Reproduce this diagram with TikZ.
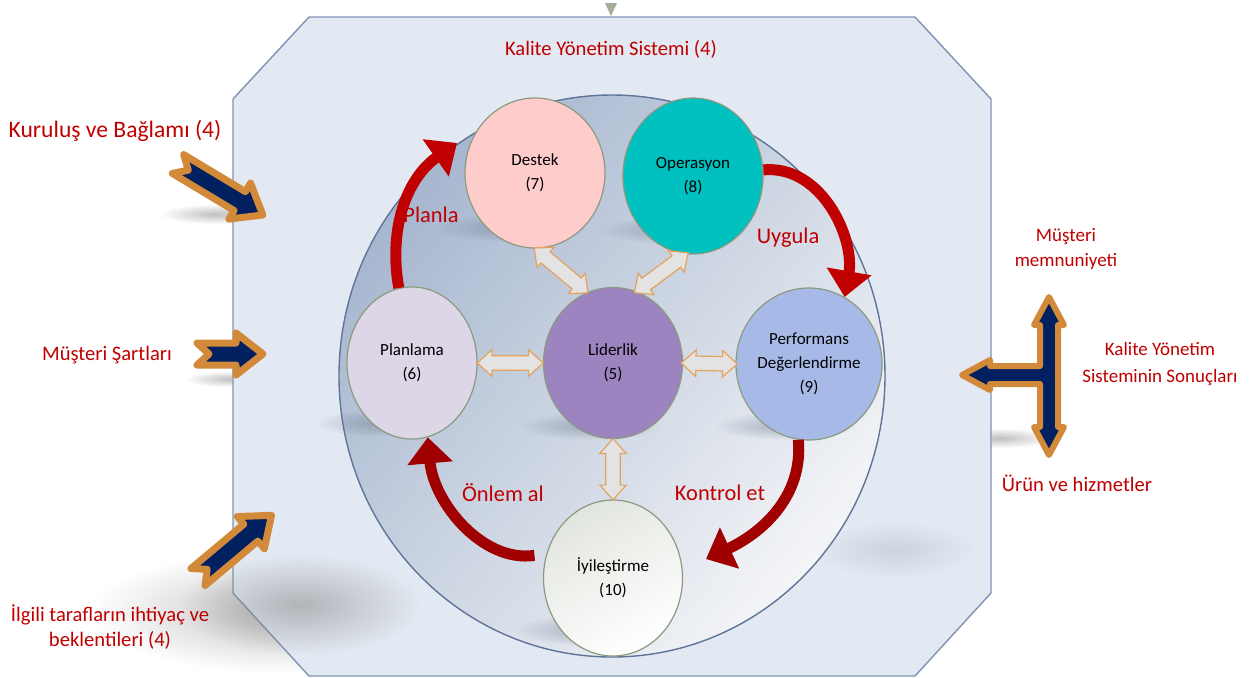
\documentclass[tikz,border=0pt]{standalone}
\usepackage{fontspec}
\setmainfont{Carlito}
\usetikzlibrary{positioning,shapes,arrows.meta,calc,fadings}

\definecolor{kysred}{HTML}{C00000}
\definecolor{darkred}{HTML}{A00000}
\definecolor{navyblue}{HTML}{002060}
\definecolor{ochre}{HTML}{D28A3A}
\definecolor{lightochre}{HTML}{E4A35C}
\definecolor{boxfill}{HTML}{E3E9F2}
\definecolor{boxline}{HTML}{7F93B3}
\definecolor{bigline}{HTML}{5E7499}
\definecolor{bigtop}{HTML}{A6B6CF}
\definecolor{bigmid}{HTML}{C4CEDD}
\definecolor{bigbot}{HTML}{F4F5F7}
\definecolor{circline}{HTML}{8C9A80}
\definecolor{destekfill}{HTML}{FFCCCC}
\definecolor{operfill}{HTML}{00C0C0}
\definecolor{planfill}{HTML}{DDD6E6}
\definecolor{lidfill}{HTML}{9C84C0}
\definecolor{perffill}{HTML}{A7BAE7}
\definecolor{shadowc}{HTML}{6E7C90}

\tikzfading[name=shfade, inner color=transparent!0, outer color=transparent!100]

\tikzset{
  circ/.style={ellipse, draw=circline, line width=0.6pt, align=center,
    inner sep=0pt, font=\fontsize{8.5}{12}\selectfont},
  redlbl/.style={text=kysred, align=center, font=\fontsize{10.3}{12.5}\selectfont},
  cyclbl/.style={text=kysred, font=\fontsize{11.2}{13}\selectfont},
  navyarr/.style={draw=ochre, fill=navyblue, line width=3.5pt, line join=round},
  dblarr/.style={double arrow, draw=lightochre, fill=gray!22, line width=0.6pt,
    inner xsep=0pt, inner ysep=3.3pt, double arrow head extend=3pt,
    double arrow tip angle=84},
  redarr/.style={draw=kysred, line width=5.5pt,
    -{Triangle[width=22pt,length=13pt]}},
  soft/.style={fill=shadowc, path fading=shfade, opacity=0.5},
  pics/inarrow/.style={code={
    \draw[navyarr] (0,11) -- (#1-27,11) -- (#1-27,21) -- (#1,0) -- (#1-27,-21)
      -- (#1-27,-11) -- (0,-11) -- (12,0) -- cycle;
  }}
}

\begin{document}
\begin{tikzpicture}[x=0.5pt,y=-0.5pt]
\useasboundingbox (0,0) rectangle (1249,677);

% outer shadows
\fill[soft, fill=gray] (290,612) ellipse [x radius=200, y radius=62];
\fill[soft, fill=gray] (215,214) ellipse [x radius=55, y radius=10];
\fill[soft, fill=gray] (230,379) ellipse [x radius=45, y radius=8];
\fill[soft, fill=gray] (1000,438) ellipse [x radius=55, y radius=10];

% system box
\draw[fill=boxfill, draw=boxline, line width=0.7pt] (309,17) -- (915,17) -- (991,99)
  -- (991,593) -- (915,676) -- (309,676) -- (233,593) -- (233,99) -- cycle;
\fill[soft, fill=gray] (300,605) ellipse [x radius=120, y radius=50];
\fill[fill=circline!80] (605,3) -- (617,3) -- (611,16) -- cycle;

\node[redlbl] (kys) at (611,49) {Kalite Yönetim Sistemi (4)};

% big circle
\path[draw=bigline, line width=0.7pt, top color=bigtop, middle color=bigmid,
  bottom color=bigbot, shading angle=50]
  (612,376) ellipse [x radius=273, y radius=281];

% shadows inside
\fill[soft] (510,228) ellipse [x radius=75, y radius=14];
\fill[soft] (675,230) ellipse [x radius=75, y radius=14];
\fill[soft] (385,423) ellipse [x radius=70, y radius=14];
\fill[soft] (590,426) ellipse [x radius=70, y radius=14];
\fill[soft] (785,426) ellipse [x radius=70, y radius=14];
\fill[soft] (590,630) ellipse [x radius=75, y radius=16];
\fill[soft, opacity=0.2] (895,550) ellipse [x radius=80, y radius=28];

% process circles
\node[circ, fill=destekfill, minimum width=70pt, minimum height=75pt] (destek) at (535,173) {Destek\\(7)};
\node[circ, fill=operfill, minimum width=70pt, minimum height=78pt] (oper) at (693,176) {Operasyon\\(8)};
\node[circ, fill=planfill, minimum width=65pt, minimum height=76pt] (plan) at (412,363) {Planlama\\(6)};
\node[circ, fill=lidfill, minimum width=69.5pt, minimum height=75.5pt] (lid) at (613,363) {Liderlik\\(5)};
\node[circ, fill=perffill, minimum width=70pt, minimum height=76pt] (perf) at (809,364) {Performans\\Değerlendirme\\(9)};
\node[circ, top color=circline!25!white, bottom color=white, shading angle=30,
  minimum width=69.5pt, minimum height=78pt] (iyi) at (613,578) {İyileştirme\\(10)};

% links to leadership
\path (plan.east) -- (lid.west) node[dblarr, midway, sloped, minimum height=33pt] {};
\path (lid.east) -- (perf.west) node[dblarr, midway, sloped, minimum height=28pt] {};
\path (lid.south) -- (iyi.north) node[dblarr, midway, sloped, minimum height=30.5pt] {};
\path (destek.south) -- (lid.110) node[dblarr, midway, sloped, minimum height=35pt] {};
\path (oper.-95) -- (lid.72) node[dblarr, midway, sloped, minimum height=33.5pt] {};

% PDCA arrows
\coordinate (planlaend) at (457,143);
\coordinate (kontrolend) at (706,559);
\draw[redarr] (plan.100) to[out=100, in=215] (planlaend);
\draw[redarr] (oper.5) to[out=5, in=80] (perf.62);
\draw[redarr, draw=darkred] (perf.-98) to[out=-85, in=25] (kontrolend);
\draw[redarr, draw=darkred, shorten <=6pt] (iyi.160) to[out=188, in=-85] (plan.-78);

\node[cyclbl] (planla) at (431,215) {Planla};
\node[cyclbl] (uygula) at (788,238) {Uygula};
\node[cyclbl] (onlem) at (503,493) {Önlem al};
\node[cyclbl] (kontrol) at (720,493) {Kontrol et};

% inputs
\node[redlbl, font=\fontsize{11.8}{14}\selectfont] (kurulus) at (115,131) {Kuruluş ve Bağlamı (4)};
\node[redlbl] (sartlar) at (107,355) {Müşteri Şartları};
\node[redlbl] (ilgili) at (110,627) {İlgili tarafların ihtiyaç ve\\beklentileri (4)};
\pic[rotate=-31] at (178,164) {inarrow=99};
\pic at (197,354) {inarrow=66};
\pic[rotate=40] at (198,577) {inarrow=96};

% outputs
\draw[navyarr, line width=3pt] (1049,297) -- (1064,325) -- (1058,325) -- (1058,427)
  -- (1064,427) -- (1049,455) -- (1034,427) -- (1040,427) -- (1040,384) -- (990,384)
  -- (990,390) -- (962,375) -- (990,360) -- (990,366) -- (1040,366) -- (1040,325)
  -- (1034,325) -- cycle;
\node[redlbl, font=\fontsize{9.5}{12.5}\selectfont] (memnun) at (1066,249) {Müşteri\\memnuniyeti};
\node[redlbl, font=\fontsize{9.5}{13.5}\selectfont] (sonuc) at (1160,364) {Kalite Yönetim\\Sisteminin Sonuçları};
\node[redlbl] (urun) at (1077,483) {Ürün ve hizmetler};
\end{tikzpicture}
\end{document}
